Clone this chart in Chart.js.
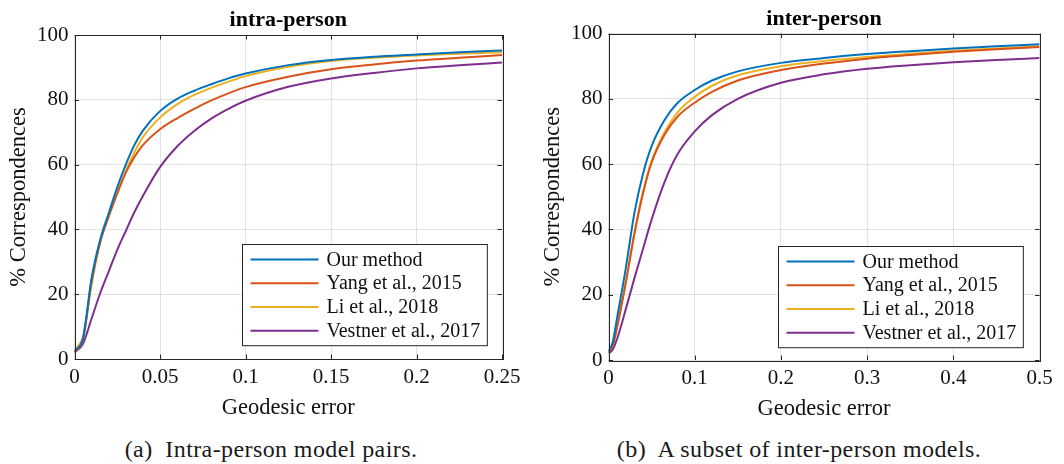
<!DOCTYPE html>
<html>
<head>
<meta charset="utf-8">
<script src="https://cdn.jsdelivr.net/npm/chart.js@4/dist/chart.umd.min.js"></script>
<style>
  body { margin: 0; background: #fff; width: 1064px; height: 464px; position: relative; overflow: hidden; }
  .panel { position: absolute; top: 0; width: 530px; height: 425px; }
  .caption { position: absolute; top: 436px; font-family: "Liberation Serif", serif; font-size: 24px; letter-spacing: 0.4px; color: #1a1a1a; white-space: pre; transform: translateX(-50%); }
</style>
</head>
<body>
<div class="panel" style="left:0px"><canvas id="intra"></canvas></div>
<div class="panel" style="left:534px"><canvas id="inter"></canvas></div>
<div class="caption" style="left:271px">(a)  Intra-person model pairs.</div>
<div class="caption" style="left:799px">(b)  A subset of inter-person models.</div>
<script>
const seriesLabels = ["Our method", "Yang et al., 2015", "Li et al., 2018", "Vestner et al., 2017"];
const seriesColors = ["#0072BD", "#D95319", "#EDB120", "#7E2F8E"];
const yTicks = [0, 20, 40, 60, 80, 100];

// intra-person
const intraX = [0, 0.005, 0.01, 0.015, 0.02, 0.025, 0.03, 0.035, 0.04, 0.05, 0.06, 0.07, 0.08, 0.09, 0.1, 0.125, 0.15, 0.175, 0.2, 0.225, 0.25];
const intraOurs = [2.4, 6.5, 25, 36.8, 45, 53, 60, 66, 70.5, 76.5, 80.3, 82.8, 84.8, 86.6, 88.1, 90.7, 92.3, 93.3, 94, 94.7, 95.2];
const intraYang = [2.2, 6, 24, 36, 44, 51, 57.5, 62.3, 66, 70.9, 74.3, 77.2, 79.8, 82, 83.9, 87.1, 89.4, 90.9, 92.1, 93, 93.8];
const intraLi = [2.8, 7, 23, 36, 44, 51.5, 58, 63.8, 68.5, 74.5, 78.6, 81.5, 83.7, 85.6, 87.3, 90.2, 92, 93, 93.7, 94.2, 94.7];
const intraVestner = [2, 4.7, 12.5, 20.3, 27, 33.7, 39.5, 45.3, 50.3, 59.2, 65.6, 70.4, 74.2, 77.2, 79.7, 84, 86.6, 88.3, 89.7, 90.7, 91.5];
const intraXTicks = [0, 0.05, 0.1, 0.15, 0.2, 0.25];

// inter-person
const interX = [0, 0.005, 0.01, 0.02, 0.03, 0.04, 0.05, 0.065, 0.08, 0.1, 0.12, 0.15, 0.2, 0.25, 0.3, 0.35, 0.4, 0.45, 0.5];
const interOurs = [2.6, 5.5, 13, 28, 45, 57, 65.5, 73.5, 78.7, 82.7, 85.6, 88.4, 91, 92.5, 93.7, 94.6, 95.4, 96.1, 96.7];
const interYang = [2.6, 4.3, 10, 23.5, 38.5, 51, 60.5, 69, 74.5, 78.8, 82.1, 85.6, 88.8, 90.8, 92.3, 93.4, 94.4, 95.2, 95.9];
const interLi = [2.6, 4.5, 10.5, 24, 39, 51.5, 61, 69.8, 75.8, 80.6, 84, 87.2, 90, 91.6, 92.8, 93.8, 94.7, 95.4, 96.1];
const interVestner = [2, 3.2, 6.5, 15.5, 25, 34, 43, 54.5, 63, 70, 75, 80, 84.9, 87.5, 89.2, 90.3, 91.2, 91.9, 92.5];
const interXTicks = [0, 0.1, 0.2, 0.3, 0.4, 0.5];

const SERIF = "'Liberation Serif', 'Times New Roman', serif";
const INK = "#262626";

// MATLAB style: title over the axes, box with inward ticks, legend inside the axes
const matlabBox = {
  id: "matlabBox",
  afterDatasetsDraw(chart, args, opts) {
    const ctx = chart.ctx;
    const a = chart.chartArea;
    const xs = chart.scales.x, ys = chart.scales.y;
    const tl = 4.5;
    ctx.save();
    ctx.strokeStyle = INK;
    ctx.lineWidth = 1;
    ctx.beginPath();
    xs.ticks.forEach(t => {
      const px = Math.round(xs.getPixelForValue(t.value)) + 0.5;
      ctx.moveTo(px, a.bottom); ctx.lineTo(px, a.bottom - tl);
      ctx.moveTo(px, a.top); ctx.lineTo(px, a.top + tl);
    });
    ys.ticks.forEach(t => {
      const py = Math.round(ys.getPixelForValue(t.value)) + 0.5;
      ctx.moveTo(a.left, py); ctx.lineTo(a.left + tl, py);
      ctx.moveTo(a.right, py); ctx.lineTo(a.right - tl, py);
    });
    ctx.stroke();
    ctx.strokeRect(Math.round(a.left) + 0.5, Math.round(a.top) + 0.5, Math.round(a.right - a.left), Math.round(a.bottom - a.top));

    // title
    ctx.font = "bold 22px " + SERIF;
    ctx.fillStyle = "#000";
    ctx.textAlign = "center";
    ctx.textBaseline = "alphabetic";
    ctx.fillText(opts.title, (a.left + a.right) / 2, opts.titleBase);

    // legend
    ctx.font = "20px " + SERIF;
    const items = chart.data.datasets;
    let tw = 0;
    items.forEach(d => { tw = Math.max(tw, ctx.measureText(d.label).width); });
    const w = 84 + tw + 7, rowH = 23.8, h = rowH * items.length + 6;
    const bx = Math.round(a.right - opts.right - w) + 0.5;
    const by = Math.round(a.bottom - opts.bottom - h) + 0.5;
    ctx.fillStyle = "#fff";
    ctx.fillRect(bx, by, w, h);
    ctx.strokeStyle = INK;
    ctx.strokeRect(bx, by, w, h);
    ctx.textBaseline = "middle";
    ctx.textAlign = "left";
    items.forEach((d, i) => {
      const cy = by + 3 + rowH * (i + 0.5);
      ctx.strokeStyle = d.borderColor;
      ctx.lineWidth = 2;
      ctx.beginPath();
      ctx.moveTo(bx + 8, cy); ctx.lineTo(bx + 76, cy);
      ctx.stroke();
      ctx.fillStyle = "#111";
      ctx.fillText(d.label, bx + 84, cy + 1);
    });
    ctx.restore();
  }
};

function makeChart(id, title, xs, series, xTicks, lay) {
  const datasets = series.map((vals, i) => ({
    label: seriesLabels[i],
    data: xs.map((x, k) => ({ x: x, y: vals[k] })),
    borderColor: seriesColors[i],
    backgroundColor: seriesColors[i],
    borderWidth: 2,
    pointRadius: 0,
    cubicInterpolationMode: "monotone",
    fill: false
  }));
  return new Chart(document.getElementById(id), {
    type: "line",
    data: { datasets: datasets },
    options: {
      responsive: true,
      maintainAspectRatio: false,
      animation: false,
      layout: { padding: { left: 6, right: lay.right, top: lay.top, bottom: lay.bottom } },
      plugins: {
        legend: { display: false },
        tooltip: { enabled: false },
        title: { display: false },
        matlabBox: { title: title, titleBase: lay.titleBase, right: lay.legRight, bottom: lay.legBottom }
      },
      scales: {
        x: {
          type: "linear",
          min: xTicks[0],
          max: xTicks[xTicks.length - 1],
          afterBuildTicks: s => { s.ticks = xTicks.map(v => ({ value: v })); },
          afterFit: s => { s.height = 63; },
          ticks: { color: "#111", font: { family: SERIF, size: 21 }, padding: 6, maxRotation: 0, autoSkip: false, callback: v => String(v) },
          grid: { color: "rgba(0,0,0,0.11)", drawTicks: false },
          border: { display: false },
          title: { display: true, text: "Geodesic error", color: "#111", font: { family: SERIF, size: 22.5 }, padding: 0 }
        },
        y: {
          min: 0,
          max: 100,
          afterBuildTicks: s => { s.ticks = yTicks.map(v => ({ value: v })); },
          afterFit: s => { s.width = 68.5; },
          ticks: { color: "#111", font: { family: SERIF, size: 21 }, padding: 6, callback: v => String(v) },
          grid: { color: "rgba(0,0,0,0.11)", drawTicks: false },
          border: { display: false },
          title: { display: true, text: "% Correspondences", color: "#111", font: { family: SERIF, size: 22.5 }, padding: 0 }
        }
      }
    },
    plugins: [matlabBox]
  });
}

makeChart("intra", "intra-person", intraX, [intraOurs, intraYang, intraLi, intraVestner], intraXTicks,
  { top: 35, right: 28, bottom: 3, titleBase: 25.5, legRight: 15, legBottom: 14 });
makeChart("inter", "inter-person", interX, [interOurs, interYang, interLi, interVestner], interXTicks,
  { top: 33.5, right: 24.5, bottom: 2, titleBase: 24.5, legRight: 16.5, legBottom: 13 });
</script>
</body>
</html>
